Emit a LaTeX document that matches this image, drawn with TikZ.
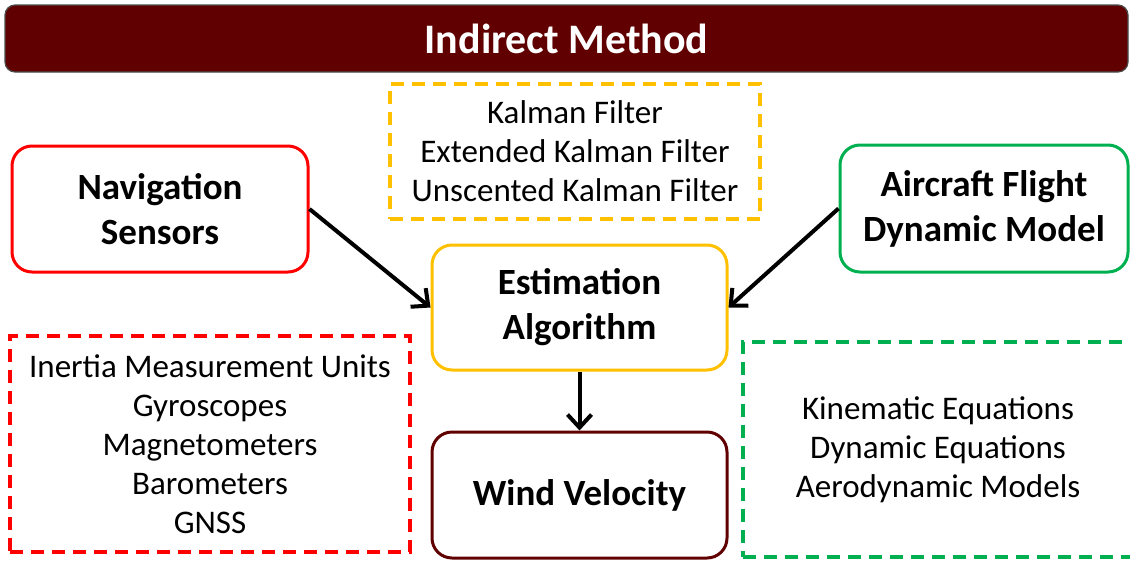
\documentclass[tikz,border=0pt]{standalone}
\usepackage{fontspec}
\setmainfont{Carlito}
\usetikzlibrary{arrows.meta}
\definecolor{dred}{HTML}{600000}
\definecolor{ored}{HTML}{FF0000}
\definecolor{oorange}{HTML}{FFC000}
\definecolor{ogreen}{HTML}{00B050}
\tikzset{
  mainbox/.style={draw, line width=3pt, rounded corners=20pt, fill=white, inner sep=0pt, align=center,
    font=\fontsize{37}{45}\selectfont\bfseries},
  listbox/.style={draw, line width=3.4pt, dash pattern=on 13pt off 8pt, inner sep=0pt, align=center,
    font=\fontsize{33}{39}\selectfont},
  conn/.style={line width=4pt, -{Straight Barb[length=13pt,width=24pt,line width=4pt]}},
}
\begin{document}
\begin{tikzpicture}[x=1pt,y=-1pt]
\useasboundingbox (0,0) rectangle (1130,560);
\clip (0,0) rectangle (1130,560);
\node[draw=black!70, line width=1.2pt, fill=dred, rounded corners=10pt, minimum width=1123pt, minimum height=67pt,
  text=white, font=\fontsize{42}{48}\selectfont\bfseries] (title) at (566.5,38.5) {Indirect Method};
\node[mainbox, draw=ored, minimum width=296pt, minimum height=126pt] (nav) at (160,209) {Navigation\\Sensors};
\node[listbox, draw=oorange, minimum width=370pt, minimum height=135pt] (kal) at (575,151.5)
  {Kalman Filter\\Extended Kalman Filter\\Unscented Kalman Filter};
\node[mainbox, draw=ogreen, minimum width=288pt, minimum height=127pt] (air) at (984,208.5) {Aircraft Flight\\Dynamic Model};
\node[mainbox, draw=oorange, minimum width=295pt, minimum height=125pt] (est) at (579.5,307.5) {Estimation\\Algorithm};
\node[mainbox, draw=dred, minimum width=295pt, minimum height=126pt] (wind) at (579.5,495) {Wind Velocity};
\node[listbox, draw=ored, minimum width=400pt, minimum height=216pt] (lst) at (210,444)
  {Inertia Measurement Units\\Gyroscopes\\Magnetometers\\Barometers\\GNSS};
\node[listbox, draw=ogreen, minimum width=397pt, minimum height=215pt] (rst) at (941.5,449.5) {};
\node[font=\fontsize{33}{39}\selectfont, align=center, inner sep=0pt] (rtxt) at (938,450)
  {Kinematic Equations\\Dynamic Equations\\Aerodynamic Models};
\draw[conn] (nav.east) -- (est.west);
\draw[conn] (air.west) -- (est.east);
\draw[conn] (est.south) -- (wind.north);
\end{tikzpicture}
\end{document}
